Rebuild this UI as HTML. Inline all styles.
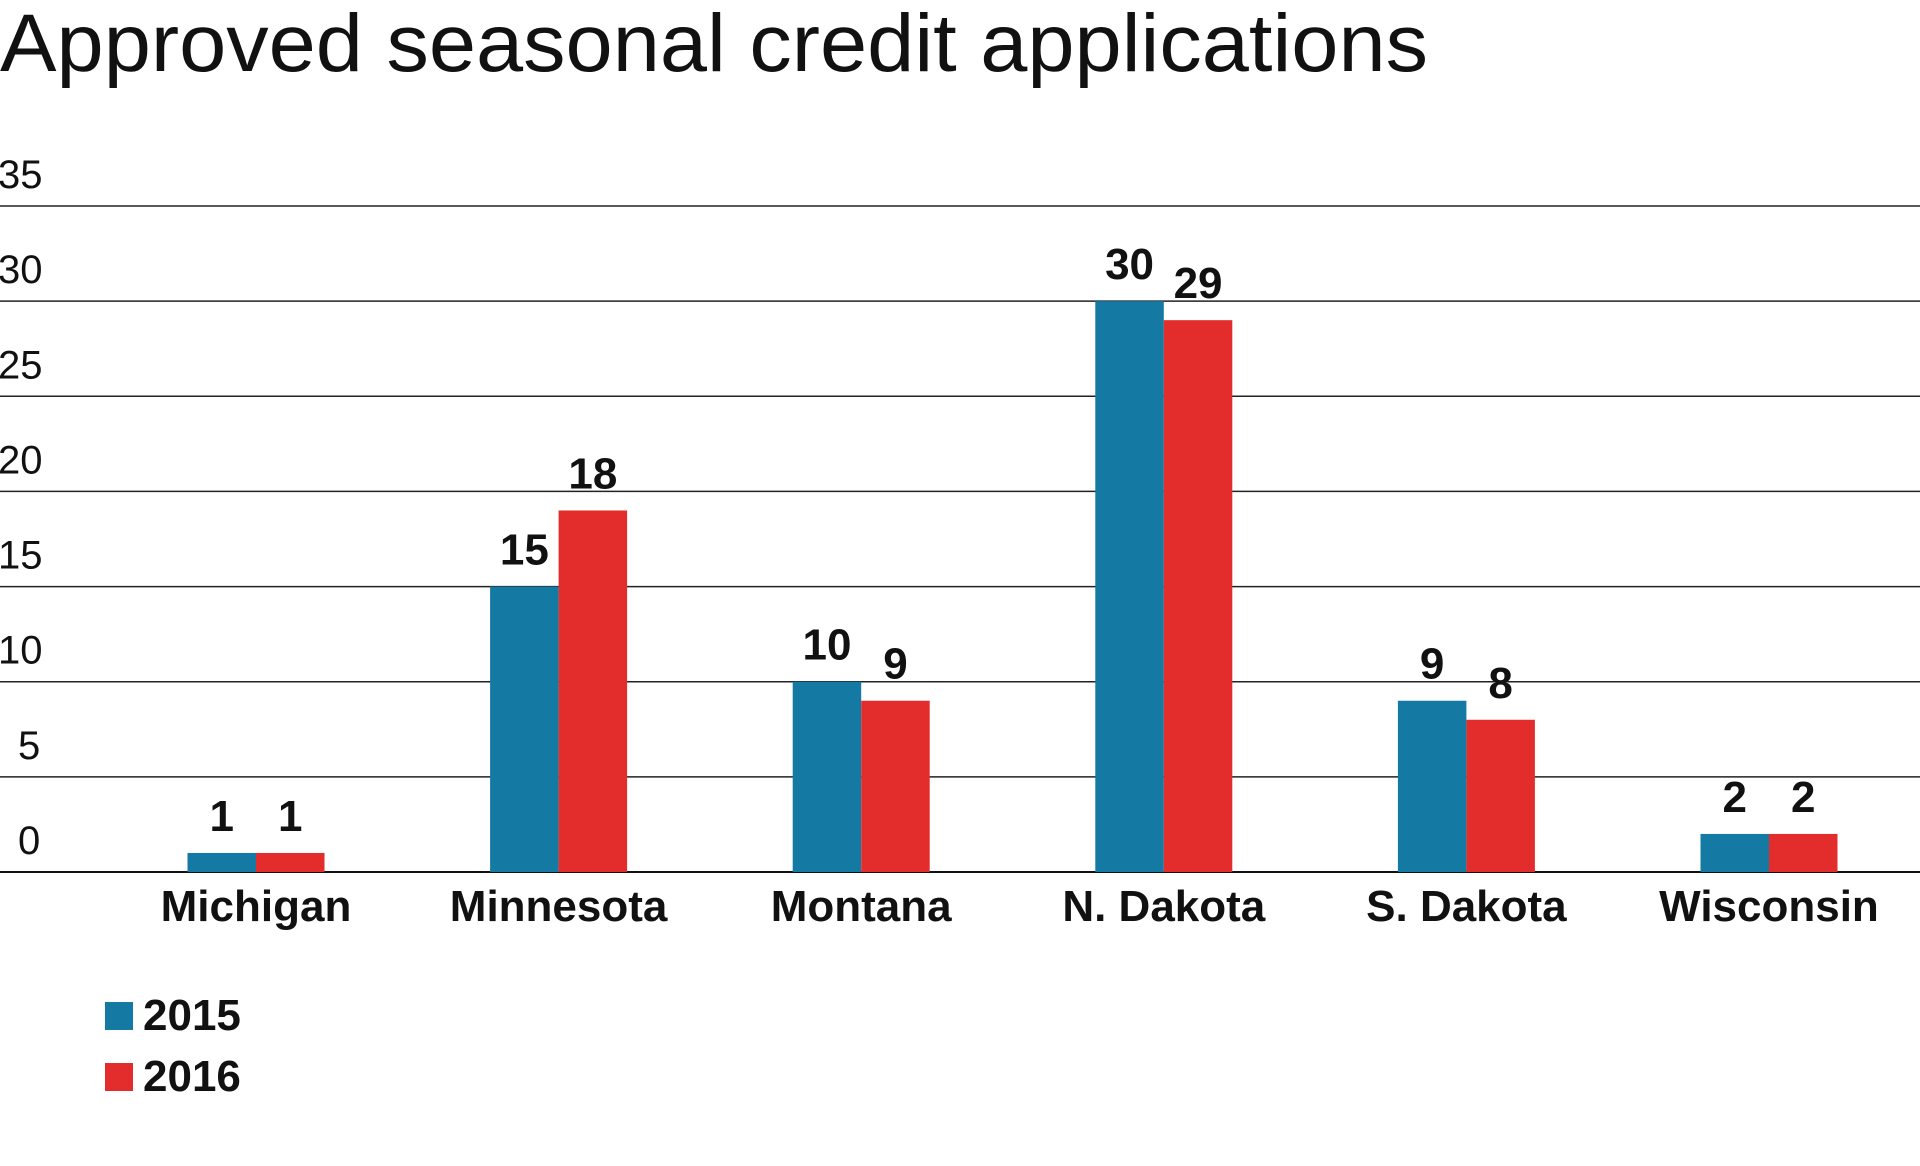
<!DOCTYPE html>
<html><head><meta charset="utf-8"><style>
html,body{margin:0;padding:0;background:#fff;}
svg{display:block;font-family:"Liberation Sans",sans-serif;}
</style></head><body>
<svg id="chart" width="1920" height="1166" viewBox="0 0 1920 1166">
<text x="0" y="71" font-size="82" fill="#111" textLength="1428" lengthAdjust="spacingAndGlyphs">Approved seasonal credit applications</text>
<g id="grid"></g><g id="bars"></g><g id="labels"></g>
<g>
<rect x="105" y="1002" width="28" height="28" fill="#1479a3"/>
<text x="143" y="1030" font-size="44" font-weight="bold" fill="#111">2015</text>
<rect x="105" y="1063" width="28" height="28" fill="#e32d2d"/>
<text x="143" y="1091" font-size="44" font-weight="bold" fill="#111">2016</text>
</g>
</svg>
<script>
const categories = ["Michigan","Minnesota","Montana","N. Dakota","S. Dakota","Wisconsin"];
const values2015 = [1,15,10,30,9,2];
const values2016 = [1,19,9,29,8,2];
const labels2015 = ["1","15","10","30","9","2"];
const labels2016 = ["1","18","9","29","8","2"];
const yTicks = [0,5,10,15,20,25,30,35];

const NS="http://www.w3.org/2000/svg";
const y0=872, y35=206;
const y=v=>y0-(v/35)*(y0-y35);
const cx=i=>256+i*302.6;
const bw=68.5;
function mk(tag,attrs,parent){const e=document.createElementNS(NS,tag);for(const k in attrs)e.setAttribute(k,attrs[k]);parent.appendChild(e);return e;}
const grid=document.getElementById('grid'),bars=document.getElementById('bars'),labels=document.getElementById('labels');
yTicks.forEach(t=>{
  const l=mk('line',{x1:0,x2:1920,y1:y(t),y2:y(t),stroke:'#222','stroke-width':1.5},grid);
  
  
  const tx=mk('text',{x:t<10?18:-2,y:y(t)-18,'font-size':40,fill:'#111'},grid);
  tx.textContent=t;
  
  
});
categories.forEach((c,i)=>{
  const b1=mk('rect',{x:cx(i)-bw,y:y(values2015[i]),width:bw,height:y0-y(values2015[i]),fill:'#1479a3'},bars);
  
  
  const b2=mk('rect',{x:cx(i),y:y(values2016[i]),width:bw,height:y0-y(values2016[i]),fill:'#e32d2d'},bars);
  
  
  const v1=mk('text',{x:cx(i)-bw/2,y:y(values2015[i])-22,'font-size':44,'font-weight':'bold','text-anchor':'middle',fill:'#111'},labels);
  v1.textContent=labels2015[i];
  
  
  const v2=mk('text',{x:cx(i)+bw/2,y:y(values2016[i])-22,'font-size':44,'font-weight':'bold','text-anchor':'middle',fill:'#111'},labels);
  v2.textContent=labels2016[i];
  
  
  const cl=mk('text',{x:cx(i),y:921,'font-size':44,'font-weight':'bold','text-anchor':'middle',fill:'#111'},labels);
  cl.textContent=c;
  
  
});
const ax=mk('line',{x1:0,x2:1920,y1:y0,y2:y0,stroke:'#111','stroke-width':2},grid);


</script>
</body></html>
